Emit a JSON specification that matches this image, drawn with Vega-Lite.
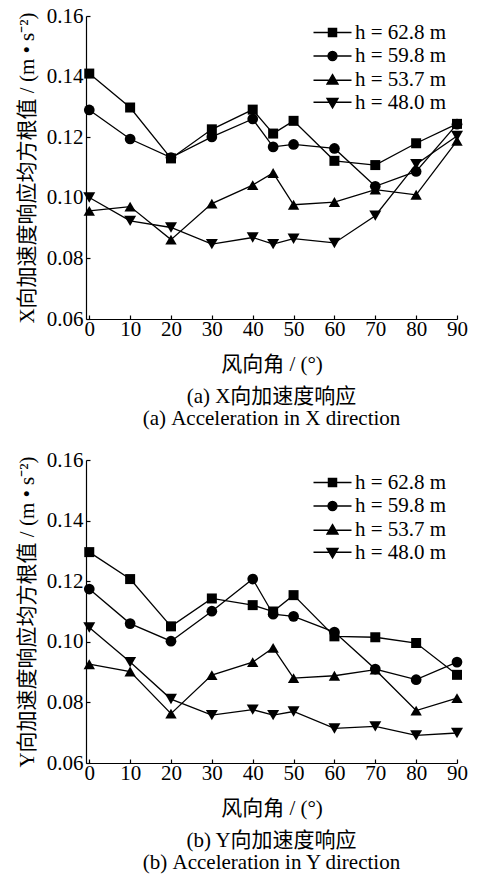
{
  "$schema": "https://vega.github.io/schema/vega-lite/v6.json",
  "padding": {"left": 16, "top": 5, "right": 0, "bottom": 5},
  "background": "white",
  "datasets": {
    "acc": [
      {"p": "a", "angle": 0, "h": "h = 62.8 m", "v": 0.141},
      {"p": "a", "angle": 10, "h": "h = 62.8 m", "v": 0.1298},
      {"p": "a", "angle": 20, "h": "h = 62.8 m", "v": 0.113},
      {"p": "a", "angle": 30, "h": "h = 62.8 m", "v": 0.1226},
      {"p": "a", "angle": 40, "h": "h = 62.8 m", "v": 0.1291},
      {"p": "a", "angle": 45, "h": "h = 62.8 m", "v": 0.1212},
      {"p": "a", "angle": 50, "h": "h = 62.8 m", "v": 0.1254},
      {"p": "a", "angle": 60, "h": "h = 62.8 m", "v": 0.1122},
      {"p": "a", "angle": 70, "h": "h = 62.8 m", "v": 0.1108},
      {"p": "a", "angle": 80, "h": "h = 62.8 m", "v": 0.118},
      {"p": "a", "angle": 90, "h": "h = 62.8 m", "v": 0.1244},
      {"p": "a", "angle": 0, "h": "h = 59.8 m", "v": 0.129},
      {"p": "a", "angle": 10, "h": "h = 59.8 m", "v": 0.1194},
      {"p": "a", "angle": 20, "h": "h = 59.8 m", "v": 0.1133},
      {"p": "a", "angle": 30, "h": "h = 59.8 m", "v": 0.1201},
      {"p": "a", "angle": 40, "h": "h = 59.8 m", "v": 0.126},
      {"p": "a", "angle": 45, "h": "h = 59.8 m", "v": 0.1168},
      {"p": "a", "angle": 50, "h": "h = 59.8 m", "v": 0.1176},
      {"p": "a", "angle": 60, "h": "h = 59.8 m", "v": 0.1163},
      {"p": "a", "angle": 70, "h": "h = 59.8 m", "v": 0.1038},
      {"p": "a", "angle": 80, "h": "h = 59.8 m", "v": 0.1087},
      {"p": "a", "angle": 90, "h": "h = 59.8 m", "v": 0.1243},
      {"p": "a", "angle": 0, "h": "h = 53.7 m", "v": 0.0957},
      {"p": "a", "angle": 10, "h": "h = 53.7 m", "v": 0.0971},
      {"p": "a", "angle": 20, "h": "h = 53.7 m", "v": 0.0862},
      {"p": "a", "angle": 30, "h": "h = 53.7 m", "v": 0.0981},
      {"p": "a", "angle": 40, "h": "h = 53.7 m", "v": 0.1042},
      {"p": "a", "angle": 45, "h": "h = 53.7 m", "v": 0.1082},
      {"p": "a", "angle": 50, "h": "h = 53.7 m", "v": 0.0977},
      {"p": "a", "angle": 60, "h": "h = 53.7 m", "v": 0.0986},
      {"p": "a", "angle": 70, "h": "h = 53.7 m", "v": 0.1027},
      {"p": "a", "angle": 80, "h": "h = 53.7 m", "v": 0.101},
      {"p": "a", "angle": 90, "h": "h = 53.7 m", "v": 0.1188},
      {"p": "a", "angle": 0, "h": "h = 48.0 m", "v": 0.1001},
      {"p": "a", "angle": 10, "h": "h = 48.0 m", "v": 0.0924},
      {"p": "a", "angle": 20, "h": "h = 48.0 m", "v": 0.0902},
      {"p": "a", "angle": 30, "h": "h = 48.0 m", "v": 0.0847},
      {"p": "a", "angle": 40, "h": "h = 48.0 m", "v": 0.0869},
      {"p": "a", "angle": 45, "h": "h = 48.0 m", "v": 0.0847},
      {"p": "a", "angle": 50, "h": "h = 48.0 m", "v": 0.0865},
      {"p": "a", "angle": 60, "h": "h = 48.0 m", "v": 0.0851},
      {"p": "a", "angle": 70, "h": "h = 48.0 m", "v": 0.0941},
      {"p": "a", "angle": 80, "h": "h = 48.0 m", "v": 0.1111},
      {"p": "a", "angle": 90, "h": "h = 48.0 m", "v": 0.1204},
      {"p": "b", "angle": 0, "h": "h = 62.8 m", "v": 0.1296},
      {"p": "b", "angle": 10, "h": "h = 62.8 m", "v": 0.1207},
      {"p": "b", "angle": 20, "h": "h = 62.8 m", "v": 0.1051},
      {"p": "b", "angle": 30, "h": "h = 62.8 m", "v": 0.1143},
      {"p": "b", "angle": 40, "h": "h = 62.8 m", "v": 0.1121},
      {"p": "b", "angle": 45, "h": "h = 62.8 m", "v": 0.11},
      {"p": "b", "angle": 50, "h": "h = 62.8 m", "v": 0.1154},
      {"p": "b", "angle": 60, "h": "h = 62.8 m", "v": 0.1018},
      {"p": "b", "angle": 70, "h": "h = 62.8 m", "v": 0.1015},
      {"p": "b", "angle": 80, "h": "h = 62.8 m", "v": 0.0996},
      {"p": "b", "angle": 90, "h": "h = 62.8 m", "v": 0.0891},
      {"p": "b", "angle": 0, "h": "h = 59.8 m", "v": 0.1174},
      {"p": "b", "angle": 10, "h": "h = 59.8 m", "v": 0.106},
      {"p": "b", "angle": 20, "h": "h = 59.8 m", "v": 0.1002},
      {"p": "b", "angle": 30, "h": "h = 59.8 m", "v": 0.1101},
      {"p": "b", "angle": 40, "h": "h = 59.8 m", "v": 0.1207},
      {"p": "b", "angle": 45, "h": "h = 59.8 m", "v": 0.1091},
      {"p": "b", "angle": 50, "h": "h = 59.8 m", "v": 0.1084},
      {"p": "b", "angle": 60, "h": "h = 59.8 m", "v": 0.1032},
      {"p": "b", "angle": 70, "h": "h = 59.8 m", "v": 0.091},
      {"p": "b", "angle": 80, "h": "h = 59.8 m", "v": 0.0875},
      {"p": "b", "angle": 90, "h": "h = 59.8 m", "v": 0.0933},
      {"p": "b", "angle": 0, "h": "h = 53.7 m", "v": 0.0926},
      {"p": "b", "angle": 10, "h": "h = 53.7 m", "v": 0.0902},
      {"p": "b", "angle": 20, "h": "h = 53.7 m", "v": 0.0763},
      {"p": "b", "angle": 30, "h": "h = 53.7 m", "v": 0.089},
      {"p": "b", "angle": 40, "h": "h = 53.7 m", "v": 0.0933},
      {"p": "b", "angle": 45, "h": "h = 53.7 m", "v": 0.098},
      {"p": "b", "angle": 50, "h": "h = 53.7 m", "v": 0.088},
      {"p": "b", "angle": 60, "h": "h = 53.7 m", "v": 0.0888},
      {"p": "b", "angle": 70, "h": "h = 53.7 m", "v": 0.0908},
      {"p": "b", "angle": 80, "h": "h = 53.7 m", "v": 0.0773},
      {"p": "b", "angle": 90, "h": "h = 53.7 m", "v": 0.0814},
      {"p": "b", "angle": 0, "h": "h = 48.0 m", "v": 0.1047},
      {"p": "b", "angle": 10, "h": "h = 48.0 m", "v": 0.0933},
      {"p": "b", "angle": 20, "h": "h = 48.0 m", "v": 0.0811},
      {"p": "b", "angle": 30, "h": "h = 48.0 m", "v": 0.0758},
      {"p": "b", "angle": 40, "h": "h = 48.0 m", "v": 0.0776},
      {"p": "b", "angle": 45, "h": "h = 48.0 m", "v": 0.0758},
      {"p": "b", "angle": 50, "h": "h = 48.0 m", "v": 0.077},
      {"p": "b", "angle": 60, "h": "h = 48.0 m", "v": 0.0714},
      {"p": "b", "angle": 70, "h": "h = 48.0 m", "v": 0.0721},
      {"p": "b", "angle": 80, "h": "h = 48.0 m", "v": 0.0691},
      {"p": "b", "angle": 90, "h": "h = 48.0 m", "v": 0.0699}
    ]
  },
  "spacing": 20,
  "resolve": {"scale": {"shape": "independent"}, "legend": {"shape": "independent"}},
  "vconcat": [
    {
      "width": 371,
      "height": 303,
      "data": {"name": "acc"},
      "transform": [{"filter": "datum.p === 'a'"}],
      "title": {"text": ["(a)  X向加速度响应", "(a)  Acceleration in X direction"], "orient": "bottom", "anchor": "middle", "offset": 12},
      "encoding": {
        "x": {"field": "angle", "type": "quantitative", "scale": {"domain": [-0.8, 90], "nice": false, "zero": false},
              "axis": {"values": [0, 10, 20, 30, 40, 50, 60, 70, 80, 90], "title": "风向角 / (°)"}},
        "y": {"field": "v", "type": "quantitative", "scale": {"domain": [0.06, 0.16], "nice": false, "zero": false},
              "axis": {"values": [0.06, 0.08, 0.1, 0.12, 0.14, 0.16], "format": ".2f", "title": "X向加速度响应均方根值 / (m • s⁻²)"}}
      },
      "resolve": {"scale": {"shape": "independent"}, "legend": {"shape": "independent"}},
      "layer": [
        {"mark": {"type": "line", "color": "black", "strokeWidth": 1.3}, "encoding": {"detail": {"field": "h"}}},
        {"mark": {"type": "point", "filled": true, "color": "black", "opacity": 1},
         "encoding": {
           "shape": {"field": "h", "type": "nominal",
             "scale": {"domain": ["h = 62.8 m", "h = 59.8 m", "h = 53.7 m", "h = 48.0 m"], "range": ["square", "circle", "triangle-up", "triangle-down"]},
             "legend": null},
           "size": {"field": "h", "type": "nominal",
             "scale": {"domain": ["h = 62.8 m", "h = 59.8 m", "h = 53.7 m", "h = 48.0 m"], "range": [100, 144]},
             "legend": null}}},
        {"transform": [{"filter": "false"}],
         "mark": {"type": "point", "fill": "black", "stroke": "black", "strokeWidth": 1.3, "opacity": 1, "size": 64},
         "encoding": {"shape": {"field": "h", "type": "nominal",
           "scale": {"domain": ["h = 62.8 m", "h = 59.8 m", "h = 53.7 m", "h = 48.0 m"],
                     "range": ["M-4.75,0H-1M1,0H4.75M-1,-1H1V1H-1Z", "M-4.75,0H-1.1M1.1,0H4.75M1.1,0A1.1,1.1,0,1,1,-1.1,0A1.1,1.1,0,1,1,1.1,0Z", "M-4.75,0.2H4.75M0,-1.2L1.35,1.1H-1.35Z", "M-4.75,-0.2H4.75M0,1.2L1.35,-1.1H-1.35Z"]},
           "legend": {"title": null, "orient": "none", "legendX": 236, "legendY": 6, "symbolSize": 64, "labelFont": "Liberation Serif", "labelFontSize": 21, "labelColor": "black", "labelOffset": 12, "rowPadding": 1.5, "padding": 0,
             "encode": {"symbols": {"fill": {"value": "black"}, "stroke": {"value": "black"}, "strokeWidth": {"value": 1.3}, "opacity": {"value": 1}, "fillOpacity": {"value": 1}, "strokeOpacity": {"value": 1}}}}}}}
      ]
    },
    {
      "width": 371,
      "height": 303,
      "data": {"name": "acc"},
      "transform": [{"filter": "datum.p === 'b'"}],
      "title": {"text": ["(b)  Y向加速度响应", "(b)  Acceleration in Y direction"], "orient": "bottom", "anchor": "middle", "offset": 12},
      "encoding": {
        "x": {"field": "angle", "type": "quantitative", "scale": {"domain": [-0.8, 90], "nice": false, "zero": false},
              "axis": {"values": [0, 10, 20, 30, 40, 50, 60, 70, 80, 90], "title": "风向角 / (°)"}},
        "y": {"field": "v", "type": "quantitative", "scale": {"domain": [0.06, 0.16], "nice": false, "zero": false},
              "axis": {"values": [0.06, 0.08, 0.1, 0.12, 0.14, 0.16], "format": ".2f", "title": "Y向加速度响应均方根值 / (m • s⁻²)"}}
      },
      "resolve": {"scale": {"shape": "independent"}, "legend": {"shape": "independent"}},
      "layer": [
        {"mark": {"type": "line", "color": "black", "strokeWidth": 1.3}, "encoding": {"detail": {"field": "h"}}},
        {"mark": {"type": "point", "filled": true, "color": "black", "opacity": 1},
         "encoding": {
           "shape": {"field": "h", "type": "nominal",
             "scale": {"domain": ["h = 62.8 m", "h = 59.8 m", "h = 53.7 m", "h = 48.0 m"], "range": ["square", "circle", "triangle-up", "triangle-down"]},
             "legend": null},
           "size": {"field": "h", "type": "nominal",
             "scale": {"domain": ["h = 62.8 m", "h = 59.8 m", "h = 53.7 m", "h = 48.0 m"], "range": [100, 144]},
             "legend": null}}},
        {"transform": [{"filter": "false"}],
         "mark": {"type": "point", "fill": "black", "stroke": "black", "strokeWidth": 1.3, "opacity": 1, "size": 64},
         "encoding": {"shape": {"field": "h", "type": "nominal",
           "scale": {"domain": ["h = 62.8 m", "h = 59.8 m", "h = 53.7 m", "h = 48.0 m"],
                     "range": ["M-4.75,0H-1M1,0H4.75M-1,-1H1V1H-1Z", "M-4.75,0H-1.1M1.1,0H4.75M1.1,0A1.1,1.1,0,1,1,-1.1,0A1.1,1.1,0,1,1,1.1,0Z", "M-4.75,0.2H4.75M0,-1.2L1.35,1.1H-1.35Z", "M-4.75,-0.2H4.75M0,1.2L1.35,-1.1H-1.35Z"]},
           "legend": {"title": null, "orient": "none", "legendX": 236, "legendY": 12, "symbolSize": 64, "labelFont": "Liberation Serif", "labelFontSize": 21, "labelColor": "black", "labelOffset": 12, "rowPadding": 1.5, "padding": 0,
             "encode": {"symbols": {"fill": {"value": "black"}, "stroke": {"value": "black"}, "strokeWidth": {"value": 1.3}, "opacity": {"value": 1}, "fillOpacity": {"value": 1}, "strokeOpacity": {"value": 1}}}}}}}
      ]
    }
  ],
  "config": {
    "view": {"stroke": null},
    "font": "Liberation Serif, Noto Sans CJK SC",
    "title": {"font": "Liberation Serif, Noto Sans CJK SC", "fontSize": 21, "fontWeight": "normal", "color": "black", "lineHeight": 22},
    "axis": {
      "domainColor": "black", "domainWidth": 1.2, "tickColor": "black", "tickWidth": 1.2, "tickSize": -4,
      "labelFont": "Liberation Serif", "labelFontSize": 21, "labelColor": "black", "grid": false,
      "titleFont": "Liberation Serif, Noto Sans CJK SC", "titleFontSize": 21, "titleFontWeight": "normal", "titleColor": "black"
    },
    "axisX": {"labelPadding": 3, "titlePadding": 14, "labelFlush": false},
    "axisY": {"labelPadding": 7, "titlePadding": 9}
  }
}
